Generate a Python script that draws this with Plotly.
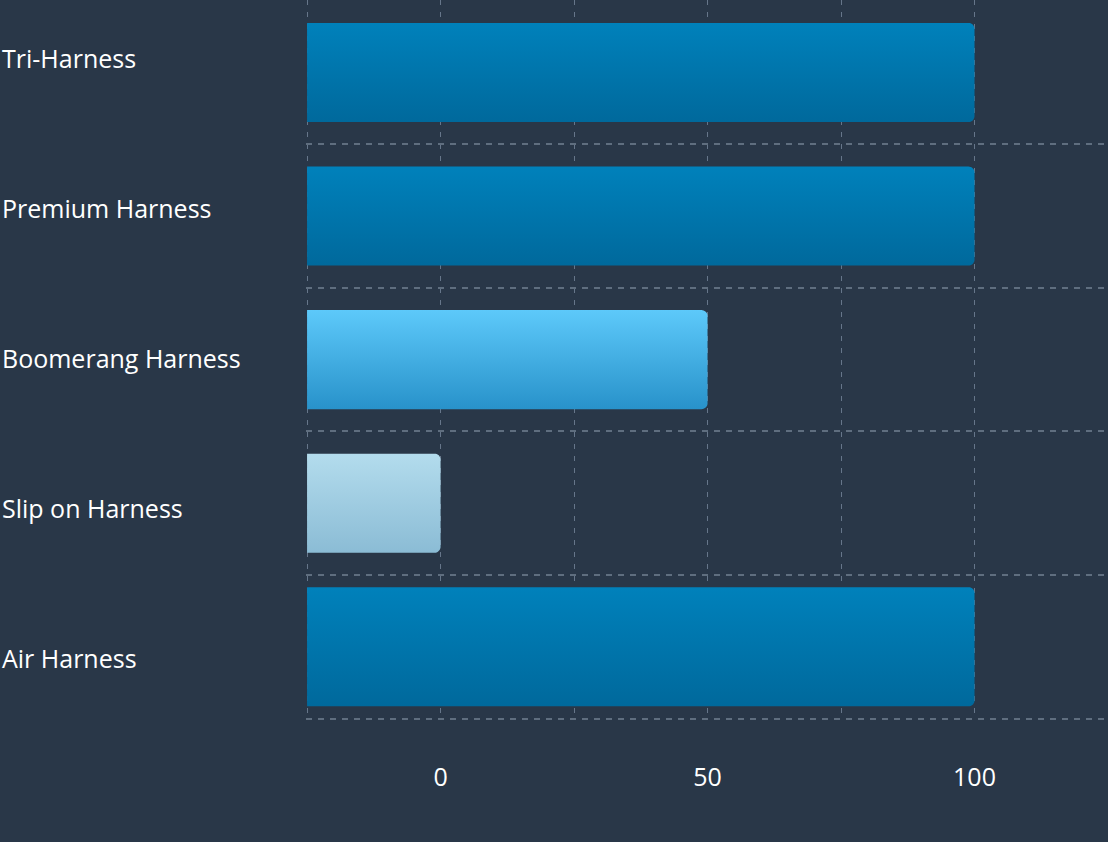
import numpy as np
import plotly.graph_objects as go

# ---- data ----
categories = ["Air Harness", "Slip on Harness", "Boomerang Harness", "Premium Harness", "Tri-Harness"]
values = [100, 0, 50, 100, 100]
bar_widths = [0.83, 0.69, 0.69, 0.69, 0.69]
top_colors = ["#0081BB", "#B3DCED", "#5DC9FA", "#0081BB", "#0081BB"]
bottom_colors = ["#00699C", "#8BBCD5", "#2892CA", "#00699C", "#00699C"]
x_tick_vals = [0, 50, 100]
x_tick_text = ["0", "50", "100"]
x_minor_grid = [-25, 25, 75]

# ---- layout constants ----
W, H = 1108, 842
ML, MR, MT, MB = 306, 0, 0, 122
X_RANGE = [-25.2, 125]
Y_RANGE = [-0.51, 4.505]
BAR_BASE = -25
BG = "#293748"
GRID = "#5F6E7F"
GRID_V = "#66768A"
FONT = "Open Sans"

plot_w = W - ML - MR
plot_h = H - MT - MB
ux = (X_RANGE[1] - X_RANGE[0]) / plot_w   # data units per px
uy = (Y_RANGE[1] - Y_RANGE[0]) / plot_h
RADIUS_PX = 6


def rounded_bar(base, end, yc, w):
    rx, ry = RADIUS_PX * ux, RADIUS_PX * uy
    y0, y1 = yc - w / 2, yc + w / 2
    xs, ys = [base, end - rx], [y0, y0]
    t = np.linspace(-np.pi / 2, 0, 10)
    xs += list(end - rx + rx * np.cos(t)); ys += list(y0 + ry + ry * np.sin(t))
    t = np.linspace(0, np.pi / 2, 10)
    xs += list(end - rx + rx * np.cos(t)); ys += list(y1 - ry + ry * np.sin(t))
    xs += [base, base]; ys += [y1, y0]
    return xs, ys, y0, y1


fig = go.Figure()
for i, (cat, v, w, ct, cb) in enumerate(zip(categories, values, bar_widths, top_colors, bottom_colors)):
    xs, ys, y0, y1 = rounded_bar(BAR_BASE, v, i, w)
    fig.add_trace(go.Scatter(
        x=xs, y=ys, mode="none", fill="toself",
        fillgradient=dict(type="vertical", colorscale=[[0, cb], [1, ct]], start=y0, stop=y1),
        name=cat, hoveron="fills", text=f"{cat}: {v}", hoverinfo="text", showlegend=False,
    ))

# left-aligned category labels
label_top_px = 58
label_step_px = 150
for k, cat in enumerate(reversed(categories)):
    ypx = label_top_px + label_step_px * k
    fig.add_annotation(
        text=cat, xref="paper", yref="paper",
        x=-(ML - 0) / plot_w, y=1 - (ypx - MT) / plot_h,
        xanchor="left", yanchor="middle", showarrow=False,
        font=dict(family=FONT, size=25, color="#FFFFFF"),
    )

fig.update_layout(
    width=W, height=H,
    margin=dict(l=ML, r=MR, t=MT, b=MB, pad=0),
    paper_bgcolor=BG, plot_bgcolor=BG,
    showlegend=False,
    font=dict(family=FONT, color="#FFFFFF"),
    xaxis=dict(
        range=X_RANGE, tickvals=x_tick_vals, ticktext=x_tick_text,
        showgrid=True, gridcolor=GRID_V, griddash="5px,7px", gridwidth=1.2,
        minor=dict(tickvals=x_minor_grid, showgrid=True, gridcolor=GRID_V, griddash="5px,7px", gridwidth=1.2),
        zeroline=False, showline=False, ticks="",
        tickfont=dict(family=FONT, size=25, color="#FFFFFF"),
        ticklabelstandoff=40, fixedrange=True,
    ),
    yaxis=dict(
        range=Y_RANGE, tick0=0.5, dtick=1, showticklabels=False,
        showgrid=True, gridcolor=GRID, griddash="6px,6px", gridwidth=1.6,
        zeroline=False, showline=False, ticks="", fixedrange=True,
    ),
)

fig.write_html("out.html", config={"displayModeBar": False},
               post_script="document.body.style.margin='0';")
